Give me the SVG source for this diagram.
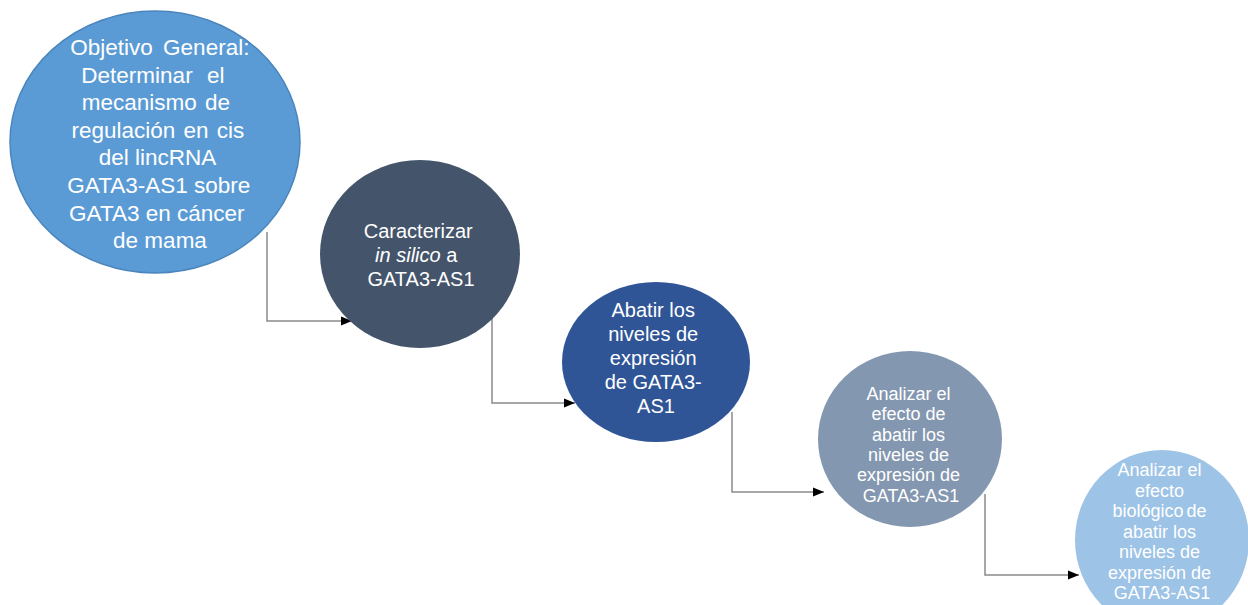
<svg xmlns="http://www.w3.org/2000/svg" width="1248" height="605" viewBox="0 0 1248 605">
  <defs>
    <marker id="arrow" markerUnits="userSpaceOnUse" markerWidth="12" markerHeight="10" refX="11" refY="5" orient="auto">
      <path d="M0,0.5 L11,5 L0,9.5 Z" fill="#000000"/>
    </marker>
    <style>
      .conn { fill: none; stroke: #8a8a8a; stroke-width: 1.5; marker-end: url(#arrow); }
      .lbl { font-family: "Liberation Sans", Arial, sans-serif; fill: #ffffff; text-anchor: middle; }
    </style>
  </defs>
  <rect width="1248" height="605" fill="#ffffff"/>

  <g id="connectors">
    <path class="conn" d="M267,232 V321 H352"/>
    <path class="conn" d="M492,318 V403 H575"/>
    <path class="conn" d="M732,412 V492 H824"/>
    <path class="conn" d="M985,494 V575 H1079"/>
  </g>

  <g id="node-objetivo">
    <ellipse cx="155" cy="142" rx="145" ry="131" fill="#5B9BD5" stroke="#4a85bd" stroke-width="1.5"/>
    <text class="lbl" font-size="22.5">
      <tspan x="163" y="55" word-spacing="4">Objetivo General:</tspan>
      <tspan x="156" y="82.6" word-spacing="8">Determinar el</tspan>
      <tspan x="159" y="110.2" word-spacing="2">mecanismo de</tspan>
      <tspan x="161" y="137.8" word-spacing="2">regulación en cis</tspan>
      <tspan x="160" y="165.4">del lincRNA</tspan>
      <tspan x="162" y="193">GATA3-AS1 sobre</tspan>
      <tspan x="160" y="220.6">GATA3 en cáncer</tspan>
      <tspan x="160" y="248.2">de mama</tspan>
    </text>
  </g>

  <g id="node-caracterizar">
    <ellipse cx="420" cy="254" rx="100" ry="94" fill="#44546A"/>
    <text class="lbl" font-size="20">
      <tspan x="421" y="238">Caracterizar</tspan>
      <tspan x="419" y="262"><tspan font-style="italic">in silico</tspan> a</tspan>
      <tspan x="421" y="286">GATA3-AS1</tspan>
    </text>
  </g>

  <g id="node-abatir">
    <ellipse cx="656" cy="362" rx="94" ry="80" fill="#2F5597"/>
    <text class="lbl" font-size="20">
      <tspan x="656" y="317">Abatir los</tspan>
      <tspan x="656" y="341">niveles de</tspan>
      <tspan x="656" y="365">expresión</tspan>
      <tspan x="656" y="389">de GATA3-</tspan>
      <tspan x="656" y="413">AS1</tspan>
    </text>
  </g>

  <g id="node-analizar">
    <ellipse cx="910" cy="439" rx="92" ry="88" fill="#8497B0"/>
    <text class="lbl" font-size="18">
      <tspan x="911" y="400">Analizar el</tspan>
      <tspan x="911" y="420.3">efecto de</tspan>
      <tspan x="911" y="440.6">abatir los</tspan>
      <tspan x="911" y="461">niveles de</tspan>
      <tspan x="911" y="481.3">expresión de</tspan>
      <tspan x="911" y="501.6">GATA3-AS1</tspan>
    </text>
  </g>

  <g id="node-biologico">
    <ellipse cx="1162" cy="540" rx="87" ry="90" fill="#9DC3E6"/>
    <text class="lbl" font-size="18">
      <tspan x="1162" y="476">Analizar el</tspan>
      <tspan x="1162" y="496.5">efecto</tspan>
      <tspan x="1162" y="517" word-spacing="-2">biológico de</tspan>
      <tspan x="1162" y="537.5">abatir los</tspan>
      <tspan x="1162" y="558">niveles de</tspan>
      <tspan x="1162" y="578.5">expresión de</tspan>
      <tspan x="1162" y="599">GATA3-AS1</tspan>
    </text>
  </g>
</svg>
